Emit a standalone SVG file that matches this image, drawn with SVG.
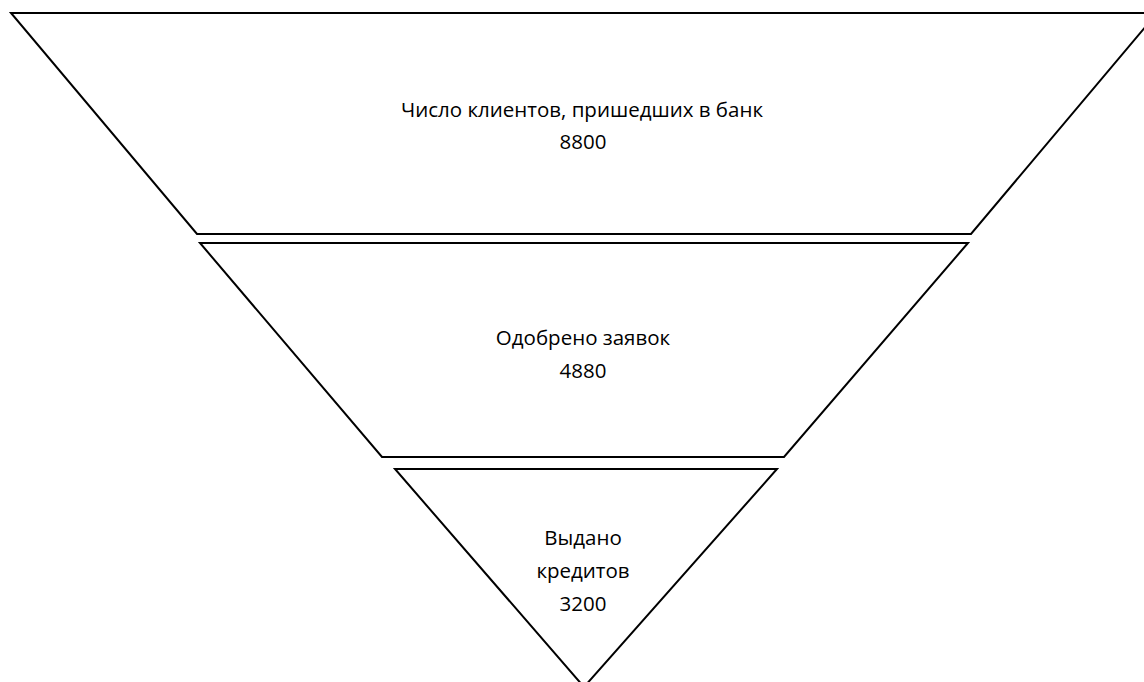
<svg xmlns="http://www.w3.org/2000/svg" width="1144" height="682" viewBox="0 0 1144 682">
<style>
.s{fill:#fff;stroke:#000;stroke-width:2;stroke-linejoin:miter}
.t{font-family:"Open Sans","Noto Sans",sans-serif;font-size:20.5px;fill:#000;text-anchor:middle}
</style>
<rect width="1144" height="682" fill="#fff"/>
<g id="stage1">
<polygon class="s" points="11,13 1157,13 971,234 197,234"/>
<text class="t" x="582" y="117">Число клиентов, пришедших в банк</text>
<text class="t" x="583" y="149">8800</text>
</g>
<g id="stage2">
<polygon class="s" points="200,243 968,243 784,457 382,457"/>
<text class="t" x="583" y="345">Одобрено заявок</text>
<text class="t" x="583" y="378">4880</text>
</g>
<g id="stage3">
<polygon class="s" points="395,469 777,469 584,687"/>
<text class="t" x="583" y="545">Выдано</text>
<text class="t" x="583" y="578">кредитов</text>
<text class="t" x="583" y="611">3200</text>
</g>
<g id="connectors"></g>
</svg>
